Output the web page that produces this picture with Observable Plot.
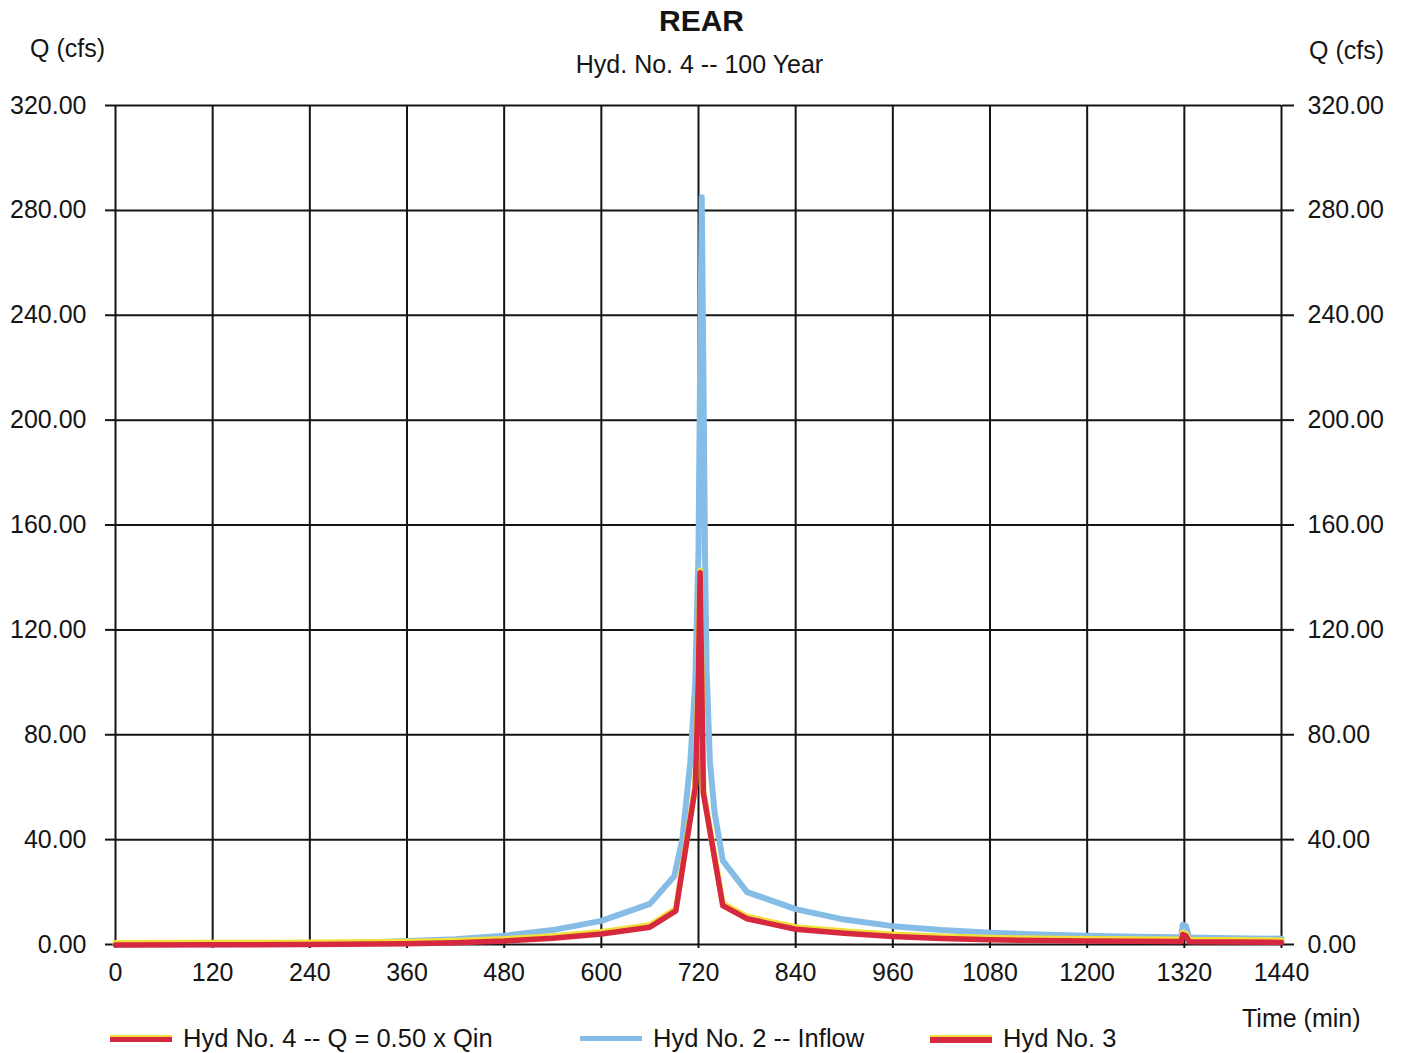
<!DOCTYPE html>
<html>
<head>
<meta charset="utf-8">
<script src="https://cdn.jsdelivr.net/npm/d3@7"></script>
<script src="https://cdn.jsdelivr.net/npm/@observablehq/plot@0.6"></script>
<style>
  html, body { margin: 0; padding: 0; background: #fff; }
  #wrap { position: relative; width: 1403px; height: 1053px; font-family: "Liberation Sans", Arial, sans-serif; color: #151515; }
  .t { position: absolute; white-space: nowrap; line-height: 1; }
  .sw { position: absolute; width: 62px; height: 5px; }
</style>
</head>
<body>
<div id="wrap">
  <div class="t" style="left:0;width:1403px;text-align:center;top:6px;font-size:30px;font-weight:bold;">REAR</div>
  <div class="t" style="left:0;width:1399px;text-align:center;top:52px;font-size:25px;">Hyd. No. 4 -- 100 Year</div>
  <div class="t" style="left:30px;top:36px;font-size:25px;">Q (cfs)</div>
  <div class="t" style="left:1309px;top:38px;font-size:25px;">Q (cfs)</div>
  <div class="t" style="left:1242px;top:1006px;font-size:25px;">Time (min)</div>
  <div class="sw" style="left:110px;top:1035px;background:#d6283e;border-top:2px solid #f2df3a;"></div>
  <div class="t" style="left:183px;top:1026px;font-size:25.5px;">Hyd No. 4 -- Q = 0.50 x Qin</div>
  <div class="sw" style="left:580px;top:1036px;background:#86bde6;"></div>
  <div class="t" style="left:653px;top:1026px;font-size:25.5px;">Hyd No. 2 -- Inflow</div>
  <div class="sw" style="left:930px;top:1035px;background:#d6283e;border-top:2px solid #f2df3a;height:6px;"></div>
  <div class="t" style="left:1003px;top:1026px;font-size:25.5px;">Hyd No. 3</div>
</div>
<script>
const xTicks = [0,120,240,360,480,600,720,840,960,1080,1200,1320,1440];
const yTicks = [0,40,80,120,160,200,240,280,320];

// Hyd No. 2 -- Inflow (time min, Q cfs)
const inflowT = [0,60,120,180,240,300,360,420,480,540,600,660,690,700,710,716,720,722,724,726,728,730,734,740,750,780,840,900,960,1020,1080,1140,1200,1260,1316,1318,1322,1326,1380,1440];
const inflowQ = [0,0.05,0.1,0.2,0.35,0.7,1.3,2.0,3.3,5.5,9.0,15.5,26,40,70,100,150,220,285,220,150,105,70,50,32,20,13.5,9.5,7.0,5.5,4.5,3.8,3.3,3.0,2.8,7.5,7.0,2.7,2.4,2.2];

// Hyd No. 4 -- Q = 0.50 x Qin
const hyd4T = [0,120,240,360,420,480,540,600,660,692,716,718,720,722,724,726,750,780,840,900,960,1020,1080,1140,1200,1260,1316,1318,1322,1326,1380,1440];
const hyd4Q = [0,0.05,0.15,0.5,0.9,1.5,2.6,4.2,6.8,13,60,80,105,142,100,58,15,10,6,4.5,3.2,2.5,2.0,1.7,1.5,1.4,1.3,4.0,3.5,1.2,1.1,1.0];

// Hyd No. 3 (coincides with Hyd No. 4)
const hyd3T = hyd4T;
const hyd3Q = [0,0.05,0.15,0.5,0.9,1.5,2.6,4.2,6.8,13,60,80,105,142,100,58,15,10,6,4.5,3.2,2.5,2.0,1.7,1.5,1.4,1.3,4.0,3.5,1.2,1.1,1.0];

const inflow = inflowT.map((t,i)=>({t, q: inflowQ[i]}));
const hyd4 = hyd4T.map((t,i)=>({t, q: hyd4Q[i]}));
const hyd3 = hyd3T.map((t,i)=>({t, q: hyd3Q[i]}));

const fmt = d => d.toFixed(2);
const ink = "#151515";

const chart = Plot.plot({
  width: 1403,
  height: 1053,
  marginLeft: 115,
  marginRight: 122,
  marginTop: 105,
  marginBottom: 109,
  style: {fontFamily: '"Liberation Sans", Arial, sans-serif', fontSize: "25px", color: ink, background: "transparent", overflow: "visible"},
  x: {domain: [0,1440]},
  y: {domain: [0,320]},
  marks: [
    Plot.gridX(xTicks, {stroke: ink, strokeOpacity: 1, strokeWidth: 2}),
    Plot.gridY(yTicks, {stroke: ink, strokeOpacity: 1, strokeWidth: 2}),
    Plot.axisY(yTicks, {anchor: "left", tickFormat: fmt, tickSize: 10, tickPadding: 19, label: null, fontSize: 25, stroke: ink, strokeWidth: 2}),
    Plot.axisY(yTicks, {anchor: "right", tickFormat: fmt, tickSize: 12, tickPadding: 14, label: null, fontSize: 25, stroke: ink, strokeWidth: 2}),
    Plot.axisX(xTicks, {anchor: "bottom", tickFormat: d => String(d), tickSize: 4, tickPadding: 15, label: null, fontSize: 25, stroke: ink, strokeWidth: 2}),
    Plot.line(inflow, {x: "t", y: "q", stroke: "#86bde6", strokeWidth: 6, strokeLinejoin: "round"}),
    Plot.line(hyd3, {x: "t", y: "q", stroke: "#f2df3a", strokeWidth: 6, dy: -1.5, strokeLinejoin: "round"}),
    Plot.line(hyd4, {x: "t", y: "q", stroke: "#d6283e", strokeWidth: 5.5, dy: 0.5, strokeLinejoin: "round"})
  ]
});
chart.style.position = "absolute";
chart.style.left = "0px";
chart.style.top = "0px";
document.getElementById("wrap").prepend(chart);
</script>
</body>
</html>
